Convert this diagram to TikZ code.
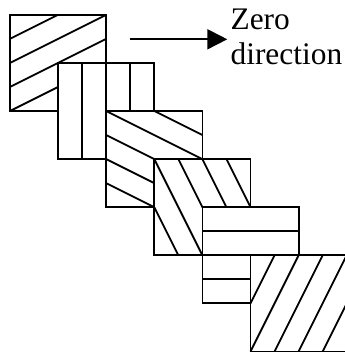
\documentclass[tikz,border=0pt]{standalone}
\usepackage{fontspec}
\setmainfont{Liberation Serif}
\usetikzlibrary{arrows.meta}
\begin{document}
\begin{tikzpicture}[x=1pt,y=1pt, line width=1.8pt, line cap=butt, line join=miter,
  lbl/.style={anchor=base west, inner sep=0pt, font=\fontsize{31.4}{36}\selectfont},
  tile/.style={shift={#1}, x=24.05pt, y=24.05pt}]
\useasboundingbox (0,0) rectangle (345,354);
\clip (0,0) rectangle (345,354);
% square 1: shallow rising hatch
\begin{scope}[tile={(10,243)}]
  \fill[white] (0,0) rectangle (4,4);
  \draw (2,0)--(4,1) (0,0)--(4,2) (0,1)--(4,3) (0,2)--(4,4) (0,3)--(2,4);
  \draw (0,0) rectangle (4,4);
\end{scope}
% square 2: vertical strips
\begin{scope}[tile={(58.1,194.9)}]
  \fill[white] (0,0) rectangle (4,4);
  \draw (1,0)--(1,4) (2,0)--(2,4) (3,0)--(3,4);
  \draw (0,0) rectangle (4,4);
\end{scope}
% square 3: shallow falling hatch
\begin{scope}[tile={(106.2,146.8)}]
  \fill[white] (0,0) rectangle (4,4);
  \draw (0,1)--(2,0) (0,2)--(4,0) (0,3)--(4,1) (0,4)--(4,2) (2,4)--(4,3);
  \draw (0,0) rectangle (4,4);
\end{scope}
% square 4: steep falling hatch
\begin{scope}[tile={(154.3,98.7)}]
  \fill[white] (0,0) rectangle (4,4);
  \draw (0,2)--(1,0) (0,4)--(2,0) (1,4)--(3,0) (2,4)--(4,0) (3,4)--(4,2);
  \draw (0,0) rectangle (4,4);
\end{scope}
% square 5: horizontal strips
\begin{scope}[tile={(202.4,50.6)}]
  \fill[white] (0,0) rectangle (4,4);
  \draw (0,1)--(4,1) (0,2)--(4,2) (0,3)--(4,3);
  \draw (0,0) rectangle (4,4);
\end{scope}
% square 6: steep rising hatch
\begin{scope}[tile={(250.5,2.5)}]
  \fill[white] (0,0) rectangle (4,4);
  \draw (0,2)--(1,4) (0,0)--(2,4) (1,0)--(3,4) (2,0)--(4,4) (3,0)--(4,2);
  \draw (0,0) rectangle (4,4);
\end{scope}
% zero direction arrow and label
\coordinate (arrowstart) at (130,314.7);
\coordinate (arrowend) at (227.3,314.7);
\draw[-{Triangle[length=20pt,width=20pt]}] (arrowstart) -- (arrowend);
\node[lbl] (zero) at (229.7,324.7) {Zero};
\node[lbl] (direction) at (229.7,289) {direction};
\end{tikzpicture}
\end{document}
